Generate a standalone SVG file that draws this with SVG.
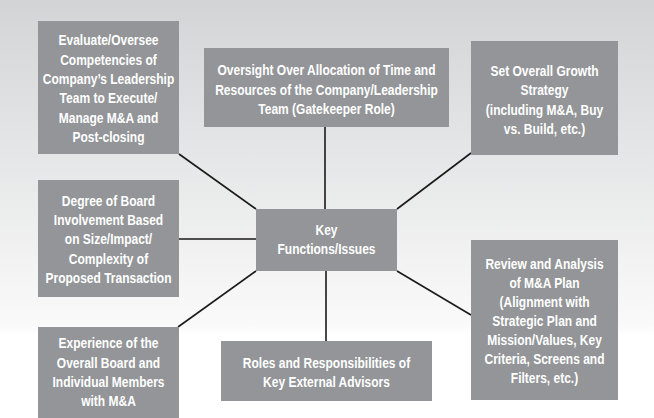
<svg xmlns="http://www.w3.org/2000/svg" width="654" height="418" viewBox="0 0 654 418">
<defs>
<linearGradient id="bg" x1="0" y1="0" x2="0" y2="418" gradientUnits="userSpaceOnUse">
<stop offset="0" stop-color="#d3d4d6"/>
<stop offset="0.78" stop-color="#fafafa"/>
<stop offset="0.8" stop-color="#ffffff"/>
<stop offset="1" stop-color="#ffffff"/>
</linearGradient>
<style>
.box{fill:#939598;}
.t{font-family:"Liberation Sans",Arial,sans-serif;font-weight:bold;font-size:15px;fill:#ffffff;text-anchor:middle;}
.c{stroke:#1a1a1a;stroke-width:1.6;fill:none;}
</style>
</defs>
<rect x="0" y="0" width="654" height="418" fill="url(#bg)"/>
<g id="connectors">
<line class="c" x1="325" y1="127" x2="325" y2="209"/>
<line class="c" x1="326" y1="271" x2="326" y2="341"/>
<line class="c" x1="179" y1="239" x2="256" y2="239"/>
<line class="c" x1="179" y1="154" x2="256" y2="209"/>
<line class="c" x1="471" y1="153" x2="397" y2="209"/>
<line class="c" x1="256" y1="271" x2="178" y2="327"/>
<line class="c" x1="397" y1="271" x2="471" y2="315"/>
</g>
<g id="evaluate">
<rect class="box" x="38" y="21" width="141" height="133"/>
<g transform="translate(108.5 0) scale(0.8 1)"><text class="t" x="0" y="45.5"><tspan x="0">Evaluate/Oversee</tspan><tspan x="0" dy="19.3">Competencies of</tspan><tspan x="0" dy="19.3">Company’s Leadership</tspan><tspan x="0" dy="19.3">Team to Execute/</tspan><tspan x="0" dy="19.3">Manage M&amp;A and</tspan><tspan x="0" dy="19.3">Post-closing</tspan></text></g>
</g>
<g id="oversight">
<rect class="box" x="204" y="48" width="245" height="79"/>
<g transform="translate(326.5 0) scale(0.8 1)"><text class="t" x="0" y="75.5"><tspan x="0">Oversight Over Allocation of Time and</tspan><tspan x="0" dy="19.4">Resources of the Company/Leadership</tspan><tspan x="0" dy="19.4">Team (Gatekeeper Role)</tspan></text></g>
</g>
<g id="growth">
<rect class="box" x="471" y="41" width="147" height="114"/>
<g transform="translate(544.5 0) scale(0.8 1)"><text class="t" x="0" y="76"><tspan x="0">Set Overall Growth</tspan><tspan x="0" dy="19.3">Strategy</tspan><tspan x="0" dy="19.3">(including M&amp;A, Buy</tspan><tspan x="0" dy="19.3">vs. Build, etc.)</tspan></text></g>
</g>
<g id="degree">
<rect class="box" x="38" y="180" width="141" height="117"/>
<g transform="translate(108.5 0) scale(0.8 1)"><text class="t" x="0" y="206"><tspan x="0">Degree of Board</tspan><tspan x="0" dy="19.2">Involvement Based</tspan><tspan x="0" dy="19.2">on Size/Impact/</tspan><tspan x="0" dy="19.2">Complexity of</tspan><tspan x="0" dy="19.2">Proposed Transaction</tspan></text></g>
</g>
<g id="key">
<rect class="box" x="256" y="209" width="141" height="62"/>
<g transform="translate(326.5 0) scale(0.8 1)"><text class="t" x="0" y="235.5"><tspan x="0">Key</tspan><tspan x="0" dy="18.5">Functions/Issues</tspan></text></g>
</g>
<g id="review">
<rect class="box" x="471" y="240" width="147" height="160"/>
<g transform="translate(544.5 0) scale(0.8 1)"><text class="t" x="0" y="269.5"><tspan x="0">Review and Analysis</tspan><tspan x="0" dy="18.9">of M&amp;A Plan</tspan><tspan x="0" dy="18.9">(Alignment with</tspan><tspan x="0" dy="18.9">Strategic Plan and</tspan><tspan x="0" dy="18.9">Mission/Values, Key</tspan><tspan x="0" dy="18.9">Criteria, Screens and</tspan><tspan x="0" dy="18.9">Filters, etc.)</tspan></text></g>
</g>
<g id="experience">
<rect class="box" x="38" y="327" width="141" height="91"/>
<g transform="translate(108.5 0) scale(0.8 1)"><text class="t" x="0" y="348.5"><tspan x="0">Experience of the</tspan><tspan x="0" dy="19.2">Overall Board and</tspan><tspan x="0" dy="19.2">Individual Members</tspan><tspan x="0" dy="19.2">with M&amp;A</tspan></text></g>
</g>
<g id="roles">
<rect class="box" x="221" y="341" width="211" height="60"/>
<g transform="translate(326.5 0) scale(0.8 1)"><text class="t" x="0" y="368"><tspan x="0">Roles and Responsibilities of</tspan><tspan x="0" dy="19">Key External Advisors</tspan></text></g>
</g>
</svg>
